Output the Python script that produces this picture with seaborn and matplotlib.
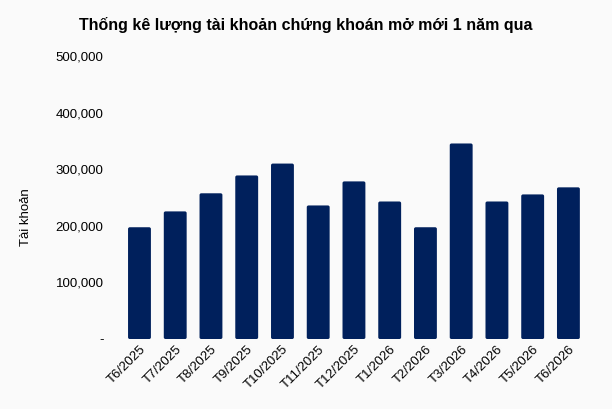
import matplotlib
matplotlib.use('Agg')
import matplotlib.pyplot as plt
import matplotlib.ticker as mticker
from matplotlib.patches import FancyBboxPatch
import seaborn as sns
import pandas as pd

months = ['T6/2025', 'T7/2025', 'T8/2025', 'T9/2025', 'T10/2025', 'T11/2025', 'T12/2025',
          'T1/2026', 'T2/2026', 'T3/2026', 'T4/2026', 'T5/2026', 'T6/2026']
accounts = [197500, 225500, 257500, 289000, 310000, 236000, 278500,
            243000, 197500, 345500, 243000, 255500, 268000]
yticks = [0, 100000, 200000, 300000, 400000, 500000]

bg = '#fafafa'
navy = '#00205c'

sns.set_theme(style='white')
plt.rcParams['font.family'] = ['Liberation Sans', 'DejaVu Sans']

df = pd.DataFrame({'month': months, 'accounts': accounts})

fig = plt.figure(figsize=(6.12, 4.09), dpi=100, facecolor=bg)
ax = fig.add_axes([0.1987, 0.1711, 0.7593, 0.6919])
ax.set_facecolor(bg)

sns.barplot(data=df, x='month', y='accounts', color=navy, saturation=1, width=0.64, ax=ax)

ax.set_ylim(0, 500000)
ax.set_xlim(-0.5, len(months) - 0.5)

# small rounded corners on the bars
for p in list(ax.patches):
    x, y = p.get_x(), p.get_y()
    w, h = p.get_width(), p.get_height()
    rb = FancyBboxPatch((x, y), w, h, boxstyle='round,pad=0,rounding_size=0.05',
                        mutation_aspect=60000, facecolor=navy, edgecolor='none')
    p.remove()
    ax.add_patch(rb)

ax.set_yticks(yticks)
ax.yaxis.set_major_formatter(mticker.FuncFormatter(lambda v, p: '-' if v == 0 else f'{int(v):,}'))
ax.tick_params(axis='y', length=0, pad=13, labelsize=9.5, labelcolor='#000000')
ax.tick_params(axis='x', length=0, pad=3, labelsize=9.5, labelcolor='#000000')
plt.setp(ax.get_xticklabels(), rotation=45, ha='right', rotation_mode='anchor')
ax.set_xlabel('')
ax.set_ylabel('')
sns.despine(ax=ax, left=True, bottom=True)

fig.text(0.042, 0.469, 'Tài khoản', rotation=90, ha='center', va='center', fontsize=9.5, color='#000000')
fig.text(0.5, 0.94, 'Thống kê lượng tài khoản chứng khoán mở mới 1 năm qua',
         ha='center', va='center', fontsize=11.5, fontweight='bold', color='#000000')

fig.savefig('out.png', dpi=100, facecolor=bg)
